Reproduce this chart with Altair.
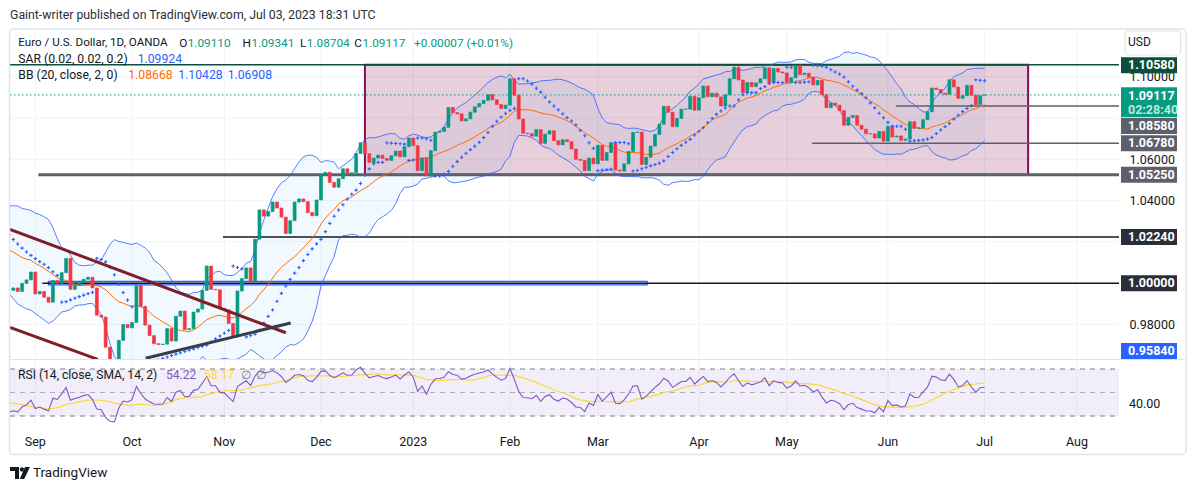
import altair as alt
import numpy as np
import pandas as pd

# ================= DATA =================
# closes before the first visible bar (Jul 01 - Aug 24 2022): only used to warm up BB / SAR / RSI
history_close = [1.0425, 1.0425, 1.0265, 1.0180, 1.0160, 1.0185, 1.0040, 1.0035, 1.0060, 1.0020,
                 1.0085, 1.0140, 1.0225, 1.0180, 1.0230, 1.0210, 1.0225, 1.0115, 1.0200,
                 1.0195, 1.0220, 1.0260, 1.0165, 1.0165, 1.0245, 1.0180, 1.0195, 1.0210, 1.0295,
                 1.0320, 1.0260, 1.0160, 1.0170, 1.0180, 1.0085, 1.0040, 0.9940, 0.9970, 0.9965]

# visible daily closes: bar -5 = Aug 25 2022, bar 0 = Sep 01 2022, bar 216 = Jul 03 2023
close = [0.9977, 0.9960, 0.9999, 1.0016, 1.0054,
         0.9948, 0.9960, 0.9932, 0.9908, 1.0013, 0.9999, 1.0051, 1.0120, 0.9970, 0.9989,
         1.0003, 1.0019, 1.0029, 0.9977, 0.9845, 0.9836, 0.9690, 0.9605, 0.9590, 0.9723,
         0.9800, 0.9784, 0.9810, 0.9989, 0.9888, 0.9797, 0.9746, 0.9707, 0.9703, 0.9705,
         0.9780, 0.9720, 0.9840, 0.9865, 0.9775, 0.9780, 0.9860, 0.9875, 0.9965, 1.0083,
         0.9970, 0.9968, 0.9878, 0.9871, 0.9805, 0.9740, 0.9962, 1.0022, 1.0074, 1.0009,
         1.0213, 1.0355, 1.0325, 1.0347, 1.0393, 1.0364, 1.0320, 1.0241, 1.0303, 1.0393,
         1.0408, 1.0395, 1.0342, 1.0327, 1.0403, 1.0525, 1.0537, 1.0488, 1.0465, 1.0506,
         1.0554, 1.0532, 1.0535, 1.0628, 1.0680, 1.0627, 1.0585, 1.0606, 1.0620, 1.0604,
         1.0595, 1.0617, 1.0640, 1.0612, 1.0661, 1.0703, 1.0666, 1.0545, 1.0606, 1.0519,
         1.0642, 1.0731, 1.0735, 1.0755, 1.0851, 1.0826, 1.0820, 1.0786, 1.0796, 1.0828,
         1.0854, 1.0870, 1.0885, 1.0913, 1.0888, 1.0865, 1.0846, 1.0862, 1.0990, 1.0910,
         1.0795, 1.0726, 1.0724, 1.0712, 1.0744, 1.0677, 1.0722, 1.0738, 1.0690, 1.0670,
         1.0695, 1.0685, 1.0650, 1.0600, 1.0595, 1.0545, 1.0606, 1.0578, 1.0668, 1.0595,
         1.0633, 1.0681, 1.0548, 1.0543, 1.0578, 1.0638, 1.0730, 1.0732, 1.0575, 1.0610,
         1.0664, 1.0720, 1.0770, 1.0857, 1.0828, 1.0758, 1.0798, 1.0843, 1.0843, 1.0905,
         1.0838, 1.0898, 1.0955, 1.0903, 1.0920, 1.0902, 1.0858, 1.0912, 1.0990, 1.1046,
         1.0984, 1.0923, 1.0972, 1.0952, 1.0970, 1.0990, 1.1043, 1.0972, 1.1040, 1.1023,
         1.1018, 1.0972, 1.0995, 1.1055, 1.1010, 1.1017, 1.0998, 1.0960, 1.0982, 1.0913,
         1.0850, 1.0872, 1.0862, 1.0836, 1.0765, 1.0803, 1.0812, 1.0765, 1.0746, 1.0724,
         1.0723, 1.0703, 1.0735, 1.0688, 1.0760, 1.0708, 1.0713, 1.0692, 1.0698, 1.0782,
         1.0750, 1.0752, 1.0792, 1.0830, 1.0945, 1.0938, 1.0920, 1.0915, 1.0985, 1.0950,
         1.0895, 1.0908, 1.0958, 1.0910, 1.0865, 1.0908, 1.09117]
last_open = 1.09110
first_bar = -5

month_index = [0, 22, 43, 65, 86, 108, 128, 151, 171, 194, 216, 237]
month_label = ["Sep", "Oct", "Nov", "Dec", "2023", "Feb", "Mar", "Apr", "May", "Jun", "Jul", "Aug"]

grid_prices = [0.98, 1.00, 1.02, 1.04, 1.06, 1.08, 1.10]
axis_prices = [0.98, 1.04, 1.06, 1.10]

level_price = [1.10580, 1.08580, 1.06780, 1.05250, 1.02240, 1.00000]
level_start = [-5.76, 195.8, 176.7, 0.7, 42.7, 1.6]

box_start, box_end, box_top, box_bottom = 75.0, 225.9, 1.10580, 1.05250
band_start, band_end, band_lo, band_hi = 3.0, 139.2, 0.99915, 1.00085

trend_name = ["r1", "r1", "r2", "r2", "g", "g"]
trend_bar = [-5.76, 57.0, -5.76, 14.2, 25.1, 58.1]
trend_price = [1.0261, 0.9760, 0.97864, 0.96315, 0.96363, 0.98073]

current_price = 1.09117
label_price = [1.10580, 1.09117, 1.08580, 1.06780, 1.05250, 1.02240, 1.00000, 0.95840]

rsi_levels = [70, 50, 30]

# ================= INDICATORS =================
allc = np.array(history_close + close, dtype=float)
n_hist = len(history_close)
idx_all = np.arange(len(allc)) - n_hist + first_bar
opens = np.r_[allc[0], allc[:-1]]
opens[-1] = last_open

s = pd.Series(allc)
basis = s.rolling(20).mean()
sd = s.rolling(20).std(ddof=0)
upper = basis + 2 * sd
lower = basis - 2 * sd

bh = np.maximum(opens, allc)
bl = np.minimum(opens, allc)


def psar(h, l, start=0.02, inc=0.02, mx=0.2):
    n = len(h)
    out = np.zeros(n)
    up = False
    af = start
    ep = l[0]
    out[0] = h[0]
    for t in range(1, n):
        v = out[t - 1] + af * (ep - out[t - 1])
        if up:
            v = min(v, l[t - 1], l[t - 2] if t > 1 else l[t - 1])
            if l[t] < v:
                up, v, ep, af = False, ep, l[t], start
            elif h[t] > ep:
                ep, af = h[t], min(af + inc, mx)
        else:
            v = max(v, h[t - 1], h[t - 2] if t > 1 else h[t - 1])
            if h[t] > v:
                up, v, ep, af = True, ep, h[t], start
            elif l[t] < ep:
                ep, af = l[t], min(af + inc, mx)
        out[t] = v
    return out


sar = psar(bh, bl)


def rma(x, n):
    out = np.full(len(x), np.nan)
    out[n] = np.mean(x[1:n + 1])
    for t in range(n + 1, len(x)):
        out[t] = (out[t - 1] * (n - 1) + x[t]) / n
    return out


d = np.diff(allc, prepend=np.nan)
gain = np.where(d > 0, d, 0.0)
loss = np.where(d < 0, -d, 0.0)
ag, al = rma(gain, 14), rma(loss, 14)
rsi = 100 - 100 / (1 + ag / al)
rsi_ma = pd.Series(rsi).rolling(14).mean()

df = pd.DataFrame({"idx": idx_all, "o": opens, "c": allc, "basis": basis, "upper": upper,
                   "lower": lower, "sar": sar, "rsi": rsi, "rsima": rsi_ma})
ind = df[df.idx >= first_bar - 1].copy()
bars = df[df.idx >= first_bar].copy()
bars["lo"] = np.minimum(bars.o, bars.c)
bars["hi"] = np.maximum(bars.o, bars.c)
bars["x1"] = bars.idx - 0.33
bars["x2"] = bars.idx + 0.33

# ================= LAYOUT / STYLE =================
FONT = "Roboto"
W, H = 1109, 398
I_LEFT, I_RIGHT = -5.76, 246.58
PANE_Y = 330
P_LO, P_HI = 0.96329, 1.12310
PPU = PANE_Y / (P_HI - P_LO)
GREEN, RED, BLUE, ORANGE = "#089981", "#F23645", "#2962FF", "#FF6D00"
PURPLE, YELLOW, GRID, TXT = "#7E57C2", "#FDD835", "#F0F3FA", "#131722"
DARKG, GRAY, DARK = "#0C4F3C", "#5D606B", "#2A2E39"
LEG = 12.2

XS = alt.Scale(domain=[I_LEFT, I_RIGHT], range=[0, W], nice=False, zero=False)
PS = alt.Scale(domain=[P_LO, P_HI], range=[PANE_Y, 0], nice=False, zero=False)
RS = alt.Scale(domain=[30, 70], range=[387, 340], nice=False, zero=False)


def X(f):
    return alt.X(f, type="quantitative", scale=XS, axis=None)


def YP(f):
    return alt.Y(f, type="quantitative", scale=PS, axis=None)


def YR(f):
    return alt.Y(f, type="quantitative", scale=RS, axis=None)


one = pd.DataFrame({"k": [0]})


def txt(x, y, t, color=TXT, size=LEG, weight="normal", align="left"):
    return alt.Chart(one).mark_text(align=align, baseline="middle", font=FONT, fontSize=size,
                                    fontWeight=weight, color=color).encode(
        x=alt.value(x), y=alt.value(y), text=alt.value(t))


def box(x1, y1, x2, y2, fill="white", stroke=None, sw=1, radius=0, opacity=1):
    kw = dict(fill=fill, cornerRadius=radius, fillOpacity=opacity)
    if stroke:
        kw.update(stroke=stroke, strokeWidth=sw)
    return alt.Chart(one).mark_rect(**kw).encode(
        x=alt.value(x1), x2=alt.value(x2), y=alt.value(y1), y2=alt.value(y2))


layers = []
# bounds anchor so the plot sits where the reference's chart area is
layers.append(alt.Chart(one).mark_rule(strokeOpacity=0).encode(
    x=alt.value(-2), x2=alt.value(0), y=alt.value(-20.5)))

# horizontal price grid + right price axis
layers.append(alt.Chart(pd.DataFrame({"g": grid_prices})).mark_rule(color=GRID).encode(
    x=alt.value(0), x2=alt.value(W),
    y=alt.Y("g:Q", scale=PS, axis=alt.Axis(orient="right", values=axis_prices, format=".5f",
                                           grid=False, domain=False, ticks=False, labelPadding=10,
                                           labelFont=FONT, labelFontSize=12.5, labelColor=TXT,
                                           labelFlush=False, labelOverlap=False, title=None))))

mdf = pd.DataFrame({"m": month_index, "lab": month_label})
layers.append(alt.Chart(mdf).mark_rule(color=GRID).encode(
    x=X("m"), y=alt.value(0), y2=alt.value(H)))

# Bollinger fill
layers.append(alt.Chart(ind).mark_area(color="#2196F3", opacity=0.06, clip=True).encode(
    x=X("idx"), y=YP("upper"), y2=alt.Y2("lower")))

# resistance/support rectangle
layers.append(alt.Chart(pd.DataFrame({"a": [box_start], "b": [box_end], "t": [box_top], "u": [box_bottom]}))
              .mark_rect(fill="#880E4F", fillOpacity=0.2, stroke="#880E4F", strokeWidth=2)
              .encode(x=X("a"), x2=alt.X2("b"), y=YP("t"), y2=alt.Y2("u")))

# parity band
layers.append(alt.Chart(pd.DataFrame({"a": [band_start], "b": [band_end], "t": [band_hi], "u": [band_lo]}))
              .mark_rect(fill=BLUE, fillOpacity=0.12, stroke=BLUE, strokeWidth=1.3)
              .encode(x=X("a"), x2=alt.X2("b"), y=YP("t"), y2=alt.Y2("u")))

# horizontal levels
lvl_style = {1.10580: (DARKG, 1.5), 1.08580: (GRAY, 1.5), 1.06780: (GRAY, 1.5),
             1.05250: (GRAY, 3), 1.02240: (TXT, 1.5), 1.00000: (TXT, 1.5)}
lv = pd.DataFrame({"a": level_start, "p": level_price})
lv["b"] = I_RIGHT
lv["col"] = [lvl_style[p][0] for p in level_price]
lv["w"] = [lvl_style[p][1] for p in level_price]
layers.append(alt.Chart(lv).mark_rule().encode(
    x=X("a"), x2=alt.X2("b"), y=YP("p"),
    color=alt.Color("col:N", scale=None), strokeWidth=alt.StrokeWidth("w:Q", scale=None)))

# current price dotted line
layers.append(alt.Chart(pd.DataFrame({"p": [current_price]})).mark_rule(
    color=GREEN, strokeDash=[1.5, 2.5], strokeWidth=1).encode(
    x=alt.value(0), x2=alt.value(W), y=YP("p")))

# Bollinger lines
layers.append(alt.Chart(ind).mark_line(color=BLUE, strokeWidth=1, opacity=0.8, clip=True).encode(
    x=X("idx"), y=YP("upper")))
layers.append(alt.Chart(ind).mark_line(color=BLUE, strokeWidth=1, opacity=0.8, clip=True).encode(
    x=X("idx"), y=YP("lower")))
layers.append(alt.Chart(ind).mark_line(color=ORANGE, strokeWidth=1, clip=True).encode(
    x=X("idx"), y=YP("basis")))

# candles
cond = "datum.c >= datum.o"
layers.append(alt.Chart(bars).mark_rect(strokeWidth=0.7, clip=True).encode(
    x=X("x1"), x2=alt.X2("x2"), y=YP("hi"), y2=alt.Y2("lo"),
    fill=alt.condition(cond, alt.value(GREEN), alt.value(RED)),
    stroke=alt.condition(cond, alt.value(GREEN), alt.value(RED))))

# parabolic SAR
layers.append(alt.Chart(ind).mark_point(shape="M-1,0H1M0,-1V1", filled=False, color=BLUE,
                                        strokeWidth=1.1, size=11, opacity=1, clip=True).encode(
    x=X("idx"), y=YP("sar")))

# trend lines
tl = pd.DataFrame({"n": trend_name, "i": trend_bar, "p": trend_price})
tl["col"] = tl.n.map({"r1": "#7E1F2A", "r2": "#7E1F2A", "g": "#3A3D46"})
layers.append(alt.Chart(tl).mark_line(strokeWidth=3, clip=True).encode(
    x=X("i"), y=YP("p"), detail="n:N", color=alt.Color("col:N", scale=None)))

# ---- RSI pane ----
layers.append(box(0, PANE_Y + 0.5, W, H))
layers.append(alt.Chart(mdf).mark_rule(color=GRID).encode(
    x=X("m"), y=alt.value(PANE_Y + 1), y2=alt.value(H)))
layers.append(alt.Chart(one).mark_rule(color="#E0E3EB").encode(
    x=alt.value(0), x2=alt.value(1176), y=alt.value(PANE_Y + 0.5)))
layers.append(alt.Chart(pd.DataFrame({"a": [rsi_levels[0]], "b": [rsi_levels[2]]})).mark_rect(
    fill=PURPLE, fillOpacity=0.1).encode(x=alt.value(0), x2=alt.value(W), y=YR("a"), y2=alt.Y2("b")))
rl = pd.DataFrame({"r": rsi_levels})
rl["op"] = [1, 0.55, 1]
layers.append(alt.Chart(rl).mark_rule(color="#787B86", strokeDash=[5, 5], strokeWidth=1).encode(
    x=alt.value(0), x2=alt.value(W), y=YR("r"), opacity=alt.Opacity("op:Q", scale=None)))
layers.append(alt.Chart(ind).mark_line(color=YELLOW, strokeWidth=1.2, clip=True).encode(
    x=X("idx"), y=YR("rsima")))
layers.append(alt.Chart(ind).mark_line(color=PURPLE, strokeWidth=1.1, clip=True).encode(
    x=X("idx"), y=YR("rsi")))

# ---- time axis labels ----
layers.append(alt.Chart(mdf).mark_text(align="center", baseline="middle", font=FONT, fontSize=12.5,
                                       color=TXT).encode(x=X("m"), y=alt.value(413), text="lab:N"))

# ---- frame ----
layers.append(alt.Chart(one).mark_rect(fill=None, stroke="#E0E3EB", strokeWidth=1.5, cornerRadius=4).encode(
    x=alt.value(-0.5), x2=alt.value(1176), y=alt.value(0), y2=alt.value(425.5)))

# ---- texts ----
layers.append(txt(0, -14, "Gaint-writer published on TradingView.com, Jul 03, 2023 18:31 UTC",
                  color=DARK, size=12.3))
R1, R2, R3 = 13.7, 29.7, 46
layers.append(txt(8.3, R1, "Euro / U.S. Dollar, 1D, OANDA", size=11.6))
for lx, vx, l, v in [(169.2, 177.7, "O", "1.09110"), (232.6, 241.4, "H", "1.09341"),
                     (289.9, 296.8, "L", "1.08704"), (344.3, 352.5, "C", "1.09117")]:
    layers.append(txt(lx, R1, l, size=11.8))
    layers.append(txt(vx, R1, v, color=GREEN, size=11.8))
layers.append(txt(404, R1, "+0.00007 (+0.01%)", color=GREEN, size=11.8))
layers.append(txt(8.3, R2, "SAR (0.02, 0.02, 0.2)"))
layers.append(txt(127.7, R2, "1.09924", color=BLUE))
layers.append(txt(8.3, R3, "BB (20, close, 2, 0)"))
layers.append(txt(118.3, R3, "1.08668", color=ORANGE))
layers.append(txt(168.3, R3, "1.10428", color=BLUE))
layers.append(txt(217.7, R3, "1.06908", color=BLUE))
layers.append(txt(8, 346, "RSI (14, close, SMA, 14, 2)", size=12.1))
layers.append(txt(156, 346, "54.22", color=PURPLE, size=12.1))
layers.append(txt(194, 346, "58.17", color=YELLOW, size=12.1))
layers.append(txt(231, 346, "∅", color="#787B86", size=12.1))
layers.append(txt(246, 346, "∅", color="#787B86", size=12.1))
layers.append(txt(1119, 374.5, "40.00", size=12.5))

# ---- price scale labels ----
lab = pd.DataFrame({"p": label_price, "t": [f"{v:.5f}" for v in label_price]})
lab["shift"] = [0.6, 0.8, 20, 0, 0, 0, 0, -18]
lab["up"] = [8, 8.4, 8, 8, 8, 8, 8, 8]
lab["down"] = [8, 21.6, 8, 8, 8, 8, 8, 8]
lab["bg"] = [DARKG, GREEN, GRAY, GRAY, GRAY, DARK, DARK, BLUE]
lab["pc"] = lab.p - lab["shift"] / PPU
lab["top"] = lab.pc + lab.up / PPU
lab["bot"] = lab.pc - lab.down / PPU
layers.append(alt.Chart(lab).mark_rect().encode(
    x=alt.value(1111), x2=alt.value(1167), y=YP("top"), y2=alt.Y2("bot"),
    fill=alt.Fill("bg:N", scale=None)))
layers.append(alt.Chart(lab).mark_text(align="left", baseline="middle", font=FONT, fontSize=12.5,
                                       fontWeight="bold", color="white").encode(
    x=alt.value(1118), y=YP("pc"), text="t:N"))
layers.append(txt(1118, 80.6, "02:28:40", color="#B9EBDD", size=12.5, weight="bold"))

# USD box
layers.append(box(1115, 2, 1170.7, 26, fill="white", stroke="#E0E3EB", sw=1.2, radius=4))
layers.append(txt(1118, 13.3, "USD", size=12))

# TradingView logo
logo = ("M-1,-0.6H-0.1V0.6H-0.5V-0.2H-1Z"
        "M-0.02,-0.36A0.22,0.22 0 1,0 0.42,-0.36A0.22,0.22 0 1,0 -0.02,-0.36Z"
        "M0.5,-0.6H1L0.42,0.6H-0.02Z")
layers.append(alt.Chart(one).mark_point(shape=logo, filled=True, color=TXT, size=400, opacity=1).encode(
    x=alt.value(10), y=alt.value(444)))
layers.append(txt(23, 444, "TradingView", size=13.5))

chart = alt.layer(*layers).resolve_scale(y="independent").properties(
    width=W, height=H, padding=0, background="white").configure_view(stroke=None)

chart.save("out.html", embed_options={"renderer": "svg", "actions": False})
